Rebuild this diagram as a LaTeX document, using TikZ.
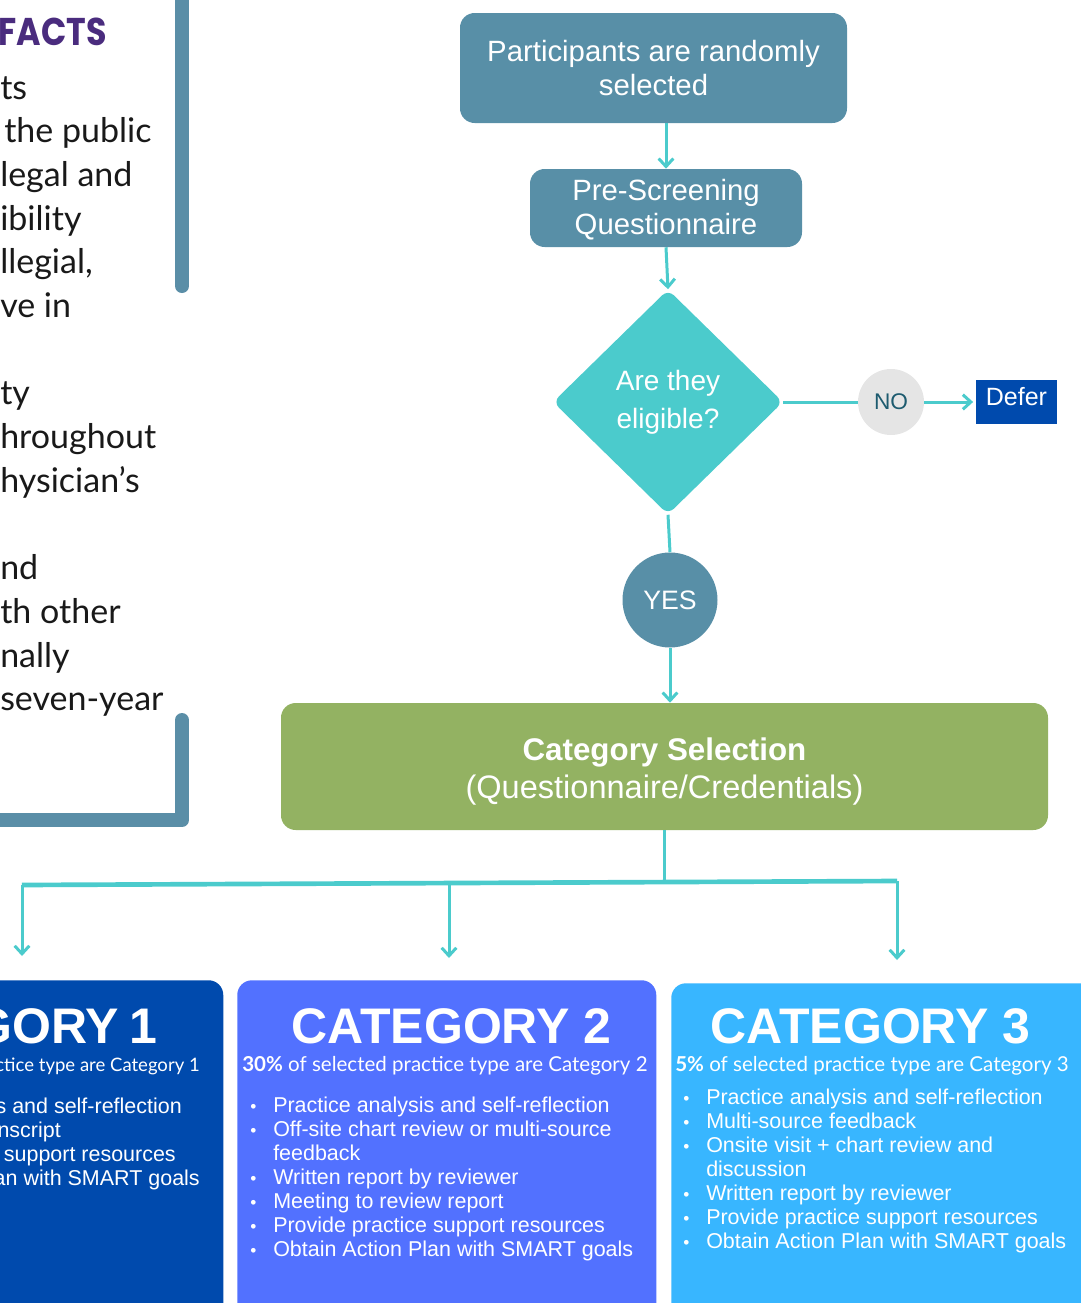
\documentclass[tikz,border=0pt]{standalone}
\usepackage{fontspec}
\setmainfont{Liberation Sans}
\newfontfamily\latofont{Lato}
\newfontfamily\factsfont{Poppins}[FakeStretch=0.86]
\usetikzlibrary{shapes.geometric,arrows.meta}
\definecolor{steel}{HTML}{588FA7}
\definecolor{aqua}{HTML}{4BCBCC}
\definecolor{selgreen}{HTML}{93B262}
\definecolor{deferblue}{HTML}{004AAD}
\definecolor{cattwo}{HTML}{5271FF}
\definecolor{catthree}{HTML}{38B6FF}
\definecolor{nogray}{HTML}{E5E5E5}
\definecolor{noteal}{HTML}{1D5B6F}
\definecolor{factpurple}{HTML}{4A2C7E}
\definecolor{barblue}{HTML}{5A8EA7}
\newcommand{\bul}{\makebox[17.25pt][l]{\fontsize{13}{13}\selectfont\textbullet}}
\newcommand{\nob}{\hspace*{17.25pt}}
\begin{document}
\begin{tikzpicture}[x=0.75pt, y=-0.75pt,
    flowbox/.style={rectangle, rounded corners=11pt, fill=steel, text=white, align=center, inner sep=0pt, font=\fontsize{22}{25.5}\selectfont},
    link/.style={draw=aqua, line width=2.25pt},
    flow/.style={link, -{Straight Barb[length=6pt, width=11pt]}},
    catbox/.style={rectangle, rounded corners=11pt, inner sep=0pt, anchor=north west},
    cattitle/.style={text=white, inner sep=0pt, font=\bfseries\fontsize{37.5}{37.5}\selectfont},
    catsub/.style={text=white, inner sep=0pt, anchor=base west, font=\latofont\fontsize{15.4}{15.4}\selectfont},
    catitem/.style={text=white, inner sep=0pt, anchor=base west, font=\fontsize{16.1}{18}\selectfont},
    facttext/.style={text=black!90, inner sep=0pt, anchor=base west, font=\latofont\fontsize{25.5}{25.5}\selectfont}]
    \useasboundingbox (0,0) rectangle (1081,1303);

    % left panel
    \draw[barblue, line width=10.5pt, line cap=round] (182,-20) -- (182,286);
    \draw[barblue, line width=10.5pt, line cap=round, line join=round] (182,720) -- (182,820) -- (-20,820);
    \node[anchor=base east, inner sep=0pt, text=factpurple, font=\factsfont\bfseries\fontsize{29}{29}\selectfont] (facts) at (107,45) {FACTS};
    \foreach \k/\t in {0/ts, 1/\hspace*{3pt}the public, 2/legal and, 3/ibility, 4/{llegial,}, 5/ve in, 7/ty, 8/hroughout, 9/hysician’s, 11/nd, 12/th other, 13/nally, 14/seven-year}
        \node[facttext] (fact\k) at (0,99+43.7*\k) {\t};

    % flow
    \node[flowbox, minimum width=290.25pt, minimum height=82.5pt] (rand) at (653.5,68) {Participants are randomly\\selected};
    \node[flowbox, minimum width=204pt, minimum height=58.5pt] (pre) at (666,208) {\rule{0pt}{19pt}Pre-Screening\\Questionnaire};
    \node[diamond, fill=aqua, text=white, align=center, inner sep=0pt, minimum width=172.5pt, minimum height=168.75pt, rounded corners=6pt, font=\fontsize{21}{28.5}\selectfont] (elig) at (668,402) {Are they\\eligible?};
    \node[circle, fill=nogray, text=noteal, minimum size=49.5pt, inner sep=0pt, font=\fontsize{17}{17}\selectfont] (no) at (891,402) {NO};
    \node[fill=deferblue, text=white, minimum width=60.75pt, minimum height=33pt, inner sep=0pt, font=\fontsize{18.75}{18.75}\selectfont] (defer) at (1016.5,402) {\raisebox{-2.25pt}[0pt][0pt]{Defer}};
    \node[circle, fill=steel, text=white, minimum size=71.25pt, inner sep=0pt, font=\fontsize{20}{20}\selectfont] (yes) at (670,600) {YES};
    \node[flowbox, fill=selgreen, minimum width=575.25pt, minimum height=95.25pt, font=\fontsize{24.4}{28.5}\selectfont] (sel) at (664.5,766.5) {\rule{0pt}{25pt}{\bfseries\fontsize{23.5}{28.5}\selectfont Category Selection}\\(Questionnaire/Credentials)};

    \draw[flow] (pre.north |- rand.south) -- (pre.north);
    \draw[flow] (pre.south) -- (elig.north);
    \draw[link] (elig.east) -- (no.west);
    \draw[flow, shorten >=2pt] (no.east) -- (defer.west);
    \draw[link] (elig.south) -- (yes.north);
    \draw[flow] (yes.south) -- (yes.south |- sel.north);

    % branches
    \coordinate (hub) at (662,883);
    \coordinate (b1) at (22,885);
    \coordinate (b2) at (449,883);
    \coordinate (b3) at (897,881);
    \coordinate (c1) at (22,956);
    \coordinate (c2) at (449,958);
    \coordinate (c3) at (897,960);
    \draw[link] (sel.south) -- (sel.south |- hub);
    \draw[link, line width=3.5pt] (b1) -- (b3);
    \draw[flow] (b1) -- (c1);
    \draw[flow] (b2) -- (c2);
    \draw[flow] (b3) -- (c3);

    % categories
    \node[catbox, fill=deferblue, minimum width=182.25pt, minimum height=262.5pt] (cat1) at (-20,980) {};
    \node[catbox, fill=cattwo, minimum width=314.25pt, minimum height=262.5pt] (cat2) at (237,980) {};
    \node[catbox, fill=catthree, minimum width=321.75pt, minimum height=262.5pt] (cat3) at (671,983) {};
    \node[cattitle, anchor=base east] (title1) at (158,1043) {GORY\hspace{0.22em}1};
    \node[cattitle, anchor=base] (title2) at (451.5,1043) {CATEGORY 2};
    \node[cattitle, anchor=base] (title3) at (870.5,1043) {CATEGORY 3};
    \node[catsub, anchor=base east, font=\latofont\fontsize{13.9}{13.9}\selectfont] (sub1) at (200,1071) {ctice type are Category 1};
    \node[catsub] (sub2) at (242,1071) {\textbf{30\%} of selected practice type are Category 2};
    \node[catsub] (sub3) at (675,1071) {\textbf{5\%} of selected practice type are Category 3};
    \foreach \x/\t [count=\i from 0] in {182/s and self-reflection, 61/nscript, 176/support resources, 200/an with SMART goals}
        \node[catitem, anchor=base east] (itemA\i) at (\x,1113+24.3*\i) {\t};
    \foreach \t [count=\i from 0] in {\bul Practice analysis and self-reflection, \bul Off-site chart review or multi-source, \nob feedback, \bul Written report by reviewer, \bul Meeting to review report, \bul Provide practice support resources, \bul Obtain Action Plan with SMART goals}
        \node[catitem] (itemB\i) at (250,1112+24*\i) {\t};
    \foreach \t [count=\i from 0] in {\bul Practice analysis and self-reflection, \bul Multi-source feedback, \bul Onsite visit + chart review and, \nob discussion, \bul Written report by reviewer, \bul Provide practice support resources, \bul Obtain Action Plan with SMART goals}
        \node[catitem] (itemC\i) at (683,1104+24*\i) {\t};
\end{tikzpicture}
\end{document}
